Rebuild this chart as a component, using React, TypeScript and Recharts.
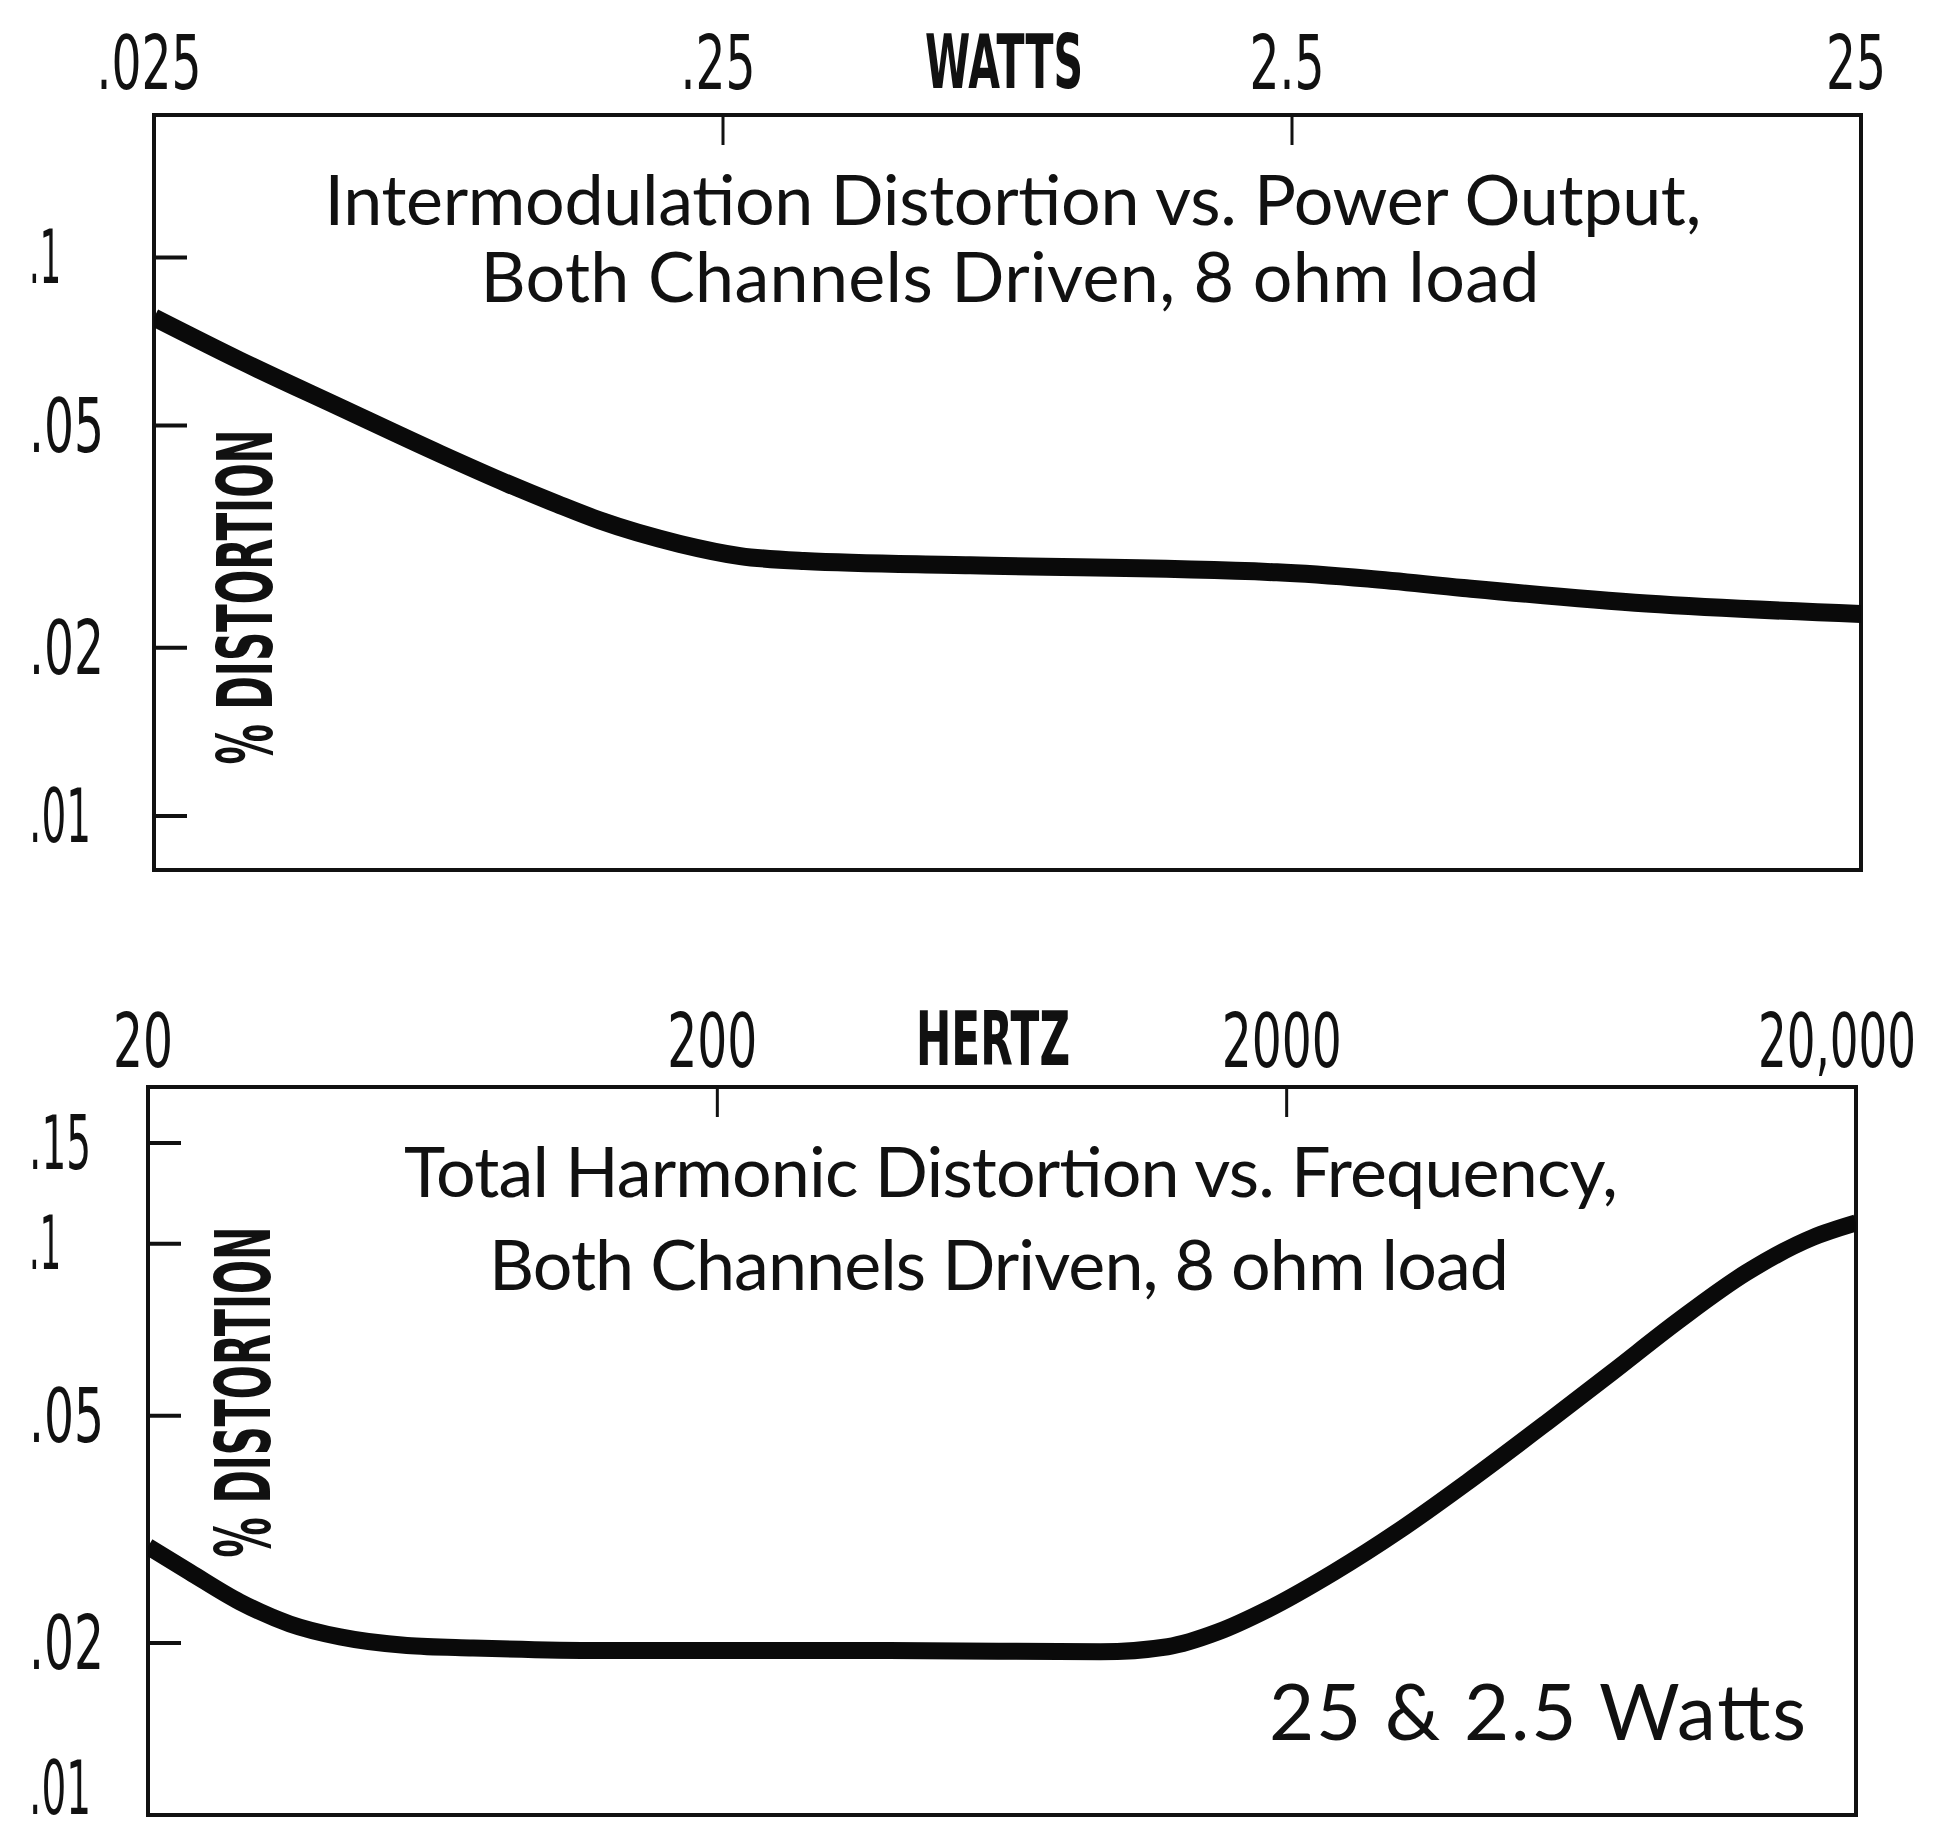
import React from 'react';
import { LineChart, Line, XAxis, YAxis, ReferenceArea } from 'recharts';

// ---------- Chart 1: Intermodulation distortion vs power output ----------
const wattsTicks = [0.025, 0.25, 2.5, 25];
const wattsTickLabels = ['.025', '.25', '2.5', '25'];
const wattsDomain = [0.025, 25];
const imdTicks = [0.01, 0.02, 0.05, 0.1];
const imdTickLabels = ['.01', '.02', '.05', '.1'];
const imdDomain = [0.008, 0.18];
const powerWatts = [0.025, 0.0354, 0.0531, 0.0796, 0.1043, 0.1277, 0.152, 0.21, 0.268, 0.347, 0.68, 2.35, 3.4, 5.0, 10.5, 25];
const imdPercent = [0.0781, 0.0654, 0.0539, 0.0445, 0.0394, 0.0362, 0.0338, 0.0307, 0.0292, 0.0286, 0.0281, 0.0273, 0.0266, 0.0256, 0.024, 0.023];

// ---------- Chart 2: Total harmonic distortion vs frequency ----------
const hertzTicks = [20, 200, 2000, 20000];
const hertzTickLabels = ['20', '200', '2000', '20,000'];
const hertzDomain = [20, 20000];
const thdTicks = [0.01, 0.02, 0.05, 0.1, 0.15];
const thdTickLabels = ['.01', '.02', '.05', '.1', '.15'];
const thdDomain = [0.01, 0.188];
const freqHz = [20, 23.7, 29, 35.5, 43.5, 57, 74.5, 125, 400, 942, 1236, 1513, 1853, 2421, 3172, 4159, 5705, 7452, 9771, 12820, 16750, 20000];
const thdPercent = [0.0295, 0.0266, 0.0236, 0.0216, 0.0205, 0.0198, 0.0196, 0.0194, 0.0194, 0.0193, 0.0197, 0.0209, 0.0229, 0.0266, 0.0316, 0.0383, 0.0485, 0.0595, 0.0734, 0.0889, 0.1024, 0.1087];

const imdData = powerWatts.map((w, i) => ({ x: w, v: imdPercent[i] }));
const thdData = freqHz.map((f, i) => ({ x: f, v: thdPercent[i] }));

const INK = '#111';
const CONDENSED = "'Liberation Sans Narrow', 'DejaVu Sans Condensed', 'Arial Narrow', sans-serif";
const GEOMETRIC = "Lato, 'Noto Sans', sans-serif";
const TICK_FONT_SIZE = 74;
const PAGE_W = 1938;

// approximate advance widths (px) of the narrow lettering used for tick labels
const glyphWidth = (c: string) => (c === '.' ? 15 : c === ',' ? 8 : c === '1' ? 17 : 30);
const labelWidth = (s: string) => s.split('').reduce((a, c) => a + glyphWidth(c), 0);

let measureCtx: CanvasRenderingContext2D | null = null;
const naturalWidth = (s: string) => {
  if (!measureCtx && typeof document !== 'undefined') {
    measureCtx = document.createElement('canvas').getContext('2d');
  }
  if (!measureCtx) return s.length * TICK_FONT_SIZE * 0.55;
  measureCtx.font = `condensed ${TICK_FONT_SIZE}px ${CONDENSED}`;
  const m = measureCtx.measureText(s).width;
  return m > 0 ? m : s.length * TICK_FONT_SIZE * 0.55;
};

const labelFor = (ticks: number[], labels: string[], v: number) => {
  let best = 0;
  for (let i = 0; i < ticks.length; i++) {
    if (Math.abs(Math.log(ticks[i]) - Math.log(v)) < Math.abs(Math.log(ticks[best]) - Math.log(v))) best = i;
  }
  return labels[best];
};

const TickText = ({ x, y, label, anchor, central }: { x: number; y: number; label: string; anchor: string; central?: boolean }) => {
  const sx = labelWidth(label) / naturalWidth(label);
  return (
    <text
      transform={`translate(${x},${y}) scale(${sx.toFixed(4)},1)`}
      x={0}
      y={0}
      textAnchor={anchor}
      dominantBaseline={central ? 'central' : undefined}
      fontFamily={CONDENSED}
      fontSize={TICK_FONT_SIZE}
      fill={INK}
      fontStretch="condensed"
    >
      {label}
    </text>
  );
};

const makeXTick = (ticks: number[], labels: string[]) => (props: any) => {
  const { x, y, payload } = props;
  const label = labelFor(ticks, labels, payload.value);
  const w = labelWidth(label);
  const cx = Math.min(x - 5, PAGE_W - 22 - w / 2);
  return <TickText x={cx} y={y} label={label} anchor="middle" />;
};

const makeYTick = (ticks: number[], labels: string[], maxY: number) => (props: any) => {
  const { x, y, payload } = props;
  const label = labelFor(ticks, labels, payload.value);
  return <TickText x={x} y={Math.min(y, maxY)} label={label} anchor="start" central />;
};

const Overlay = () => (
  <svg
    width={1938}
    height={1832}
    style={{ position: 'absolute', left: 0, top: 0, pointerEvents: 'none' }}
  >
    {/* top chart */}
    <text x={1004} y={88} textAnchor="middle" fontFamily={CONDENSED} fontWeight="bold" fontSize={74}
      textLength={158} lengthAdjust="spacingAndGlyphs" fill={INK}>WATTS</text>
    <text x={1013} y={225} textAnchor="middle" fontFamily={GEOMETRIC} fontSize={70}
      textLength={1377} lengthAdjust="spacing" fill={INK}>Intermodulation Distortion vs. Power Output,</text>
    <text x={1010} y={302} textAnchor="middle" fontFamily={GEOMETRIC} fontSize={70}
      textLength={1059} lengthAdjust="spacing" fill={INK}>Both Channels Driven, 8 ohm load</text>
    <text transform="translate(272,597) rotate(-90)" textAnchor="middle" fontFamily={CONDENSED} fontWeight="bold"
      fontSize={76} textLength={335} lengthAdjust="spacingAndGlyphs" fill={INK}>% DISTORTION</text>

    {/* bottom chart */}
    <text x={993} y={1065} textAnchor="middle" fontFamily={CONDENSED} fontWeight="bold" fontSize={74}
      textLength={154} lengthAdjust="spacingAndGlyphs" fill={INK}>HERTZ</text>
    <text x={1011} y={1197} textAnchor="middle" fontFamily={GEOMETRIC} fontSize={70}
      textLength={1214} lengthAdjust="spacing" fill={INK}>Total Harmonic Distortion vs. Frequency,</text>
    <text x={999} y={1290} textAnchor="middle" fontFamily={GEOMETRIC} fontSize={70}
      textLength={1020} lengthAdjust="spacing" fill={INK}>Both Channels Driven, 8 ohm load</text>
    <text transform="translate(270,1392) rotate(-90)" textAnchor="middle" fontFamily={CONDENSED} fontWeight="bold"
      fontSize={76} textLength={331} lengthAdjust="spacingAndGlyphs" fill={INK}>% DISTORTION</text>
    <text x={1269} y={1740} textAnchor="start" fontFamily={GEOMETRIC} fontSize={78}
      textLength={537} lengthAdjust="spacing" fill={INK}>25 &amp; 2.5 Watts</text>
  </svg>
);

export default function App() {
  return (
    <div style={{ position: 'absolute', left: 0, top: 0, width: 1938, height: 1832, background: '#fff', overflow: 'hidden' }}>
      <div style={{ position: 'absolute', left: 0, top: 0 }}>
        <LineChart width={1938} height={960} data={imdData} margin={{ top: 114, right: 77, bottom: 90, left: 153 }}>
          <XAxis
            dataKey="x"
            type="number"
            scale="log"
            domain={wattsDomain}
            allowDataOverflow
            orientation="top"
            ticks={wattsTicks}
            height={1}
            axisLine={false}
            tickSize={-30}
            tickMargin={56}
            tickLine={{ stroke: INK, strokeWidth: 3 }}
            tick={makeXTick(wattsTicks, wattsTickLabels)}
            interval={0}
          />
          <YAxis
            type="number"
            scale="log"
            domain={imdDomain}
            allowDataOverflow
            ticks={imdTicks}
            width={1}
            axisLine={false}
            tickSize={-33}
            tickMargin={158}
            tickLine={{ stroke: INK, strokeWidth: 4 }}
            tick={makeYTick(imdTicks, imdTickLabels, 930)}
            interval={0}
          />
          <ReferenceArea
            x1={wattsDomain[0]}
            x2={wattsDomain[1]}
            y1={imdDomain[0]}
            y2={imdDomain[1]}
            fill="none"
            fillOpacity={0}
            stroke={INK}
            strokeWidth={4}
            ifOverflow="visible"
          />
          <Line
            type="monotone"
            dataKey="v"
            stroke="#0a0a0a"
            strokeWidth={18}
            dot={false}
            strokeLinecap="butt"
            isAnimationActive={false}
          />
        </LineChart>
      </div>
      <div style={{ position: 'absolute', left: 0, top: 960 }}>
        <LineChart width={1938} height={872} data={thdData} margin={{ top: 126, right: 82, bottom: 17, left: 147 }}>
          <XAxis
            dataKey="x"
            type="number"
            scale="log"
            domain={hertzDomain}
            allowDataOverflow
            orientation="top"
            ticks={hertzTicks}
            height={1}
            axisLine={false}
            tickSize={-30}
            tickMargin={50}
            tickLine={{ stroke: INK, strokeWidth: 3 }}
            tick={makeXTick(hertzTicks, hertzTickLabels)}
            interval={0}
          />
          <YAxis
            type="number"
            scale="log"
            domain={thdDomain}
            allowDataOverflow
            ticks={thdTicks}
            width={1}
            axisLine={false}
            tickSize={-33}
            tickMargin={152}
            tickLine={{ stroke: INK, strokeWidth: 4 }}
            tick={makeYTick(thdTicks, thdTickLabels, 828)}
            interval={0}
          />
          <ReferenceArea
            x1={hertzDomain[0]}
            x2={hertzDomain[1]}
            y1={thdDomain[0]}
            y2={thdDomain[1]}
            fill="none"
            fillOpacity={0}
            stroke={INK}
            strokeWidth={4}
            ifOverflow="visible"
          />
          <Line
            type="monotone"
            dataKey="v"
            stroke="#0a0a0a"
            strokeWidth={17}
            dot={false}
            strokeLinecap="butt"
            isAnimationActive={false}
          />
        </LineChart>
      </div>
      <Overlay />
    </div>
  );
}
